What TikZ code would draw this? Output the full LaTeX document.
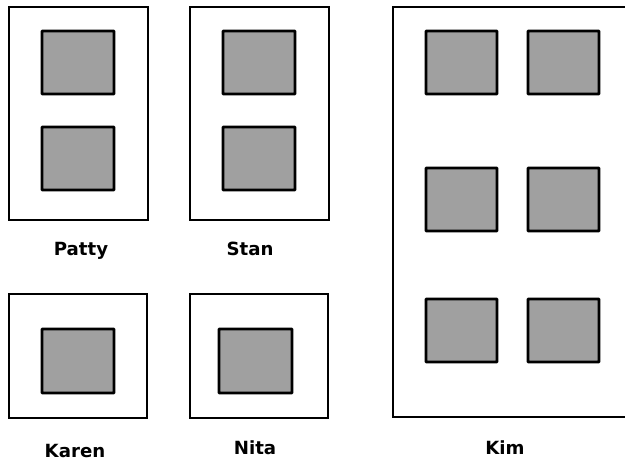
\documentclass[tikz,border=0pt]{standalone}
\usepackage{fontspec}
\setmainfont{DejaVu Sans}
\usepackage{xcolor}
\definecolor{deskgray}{RGB}{160,160,160}
\usetikzlibrary{positioning}

\tikzset{
  office/.style={draw=black, line width=2.3pt, fill=white},
  desk/.style={draw=black, line width=2.4pt, fill=deskgray, rounded corners=0.6pt},
  namelabel/.style={font=\bfseries\fontsize{15.5}{17}\selectfont, anchor=base, inner sep=0pt}
}

\begin{document}
\begin{tikzpicture}[x=0.03cm, y=-0.03cm]
\useasboundingbox (0,0) rectangle (625,461);
\clip (0,0) rectangle (625,461);

% --- Patty ---
\draw[office] (9,7) rectangle (148,220);
\draw[desk] (42,31) rectangle (114,94);
\draw[desk] (42,127) rectangle (114,190);
\node[namelabel] (patty) at (81,256) {Patty};

% --- Stan ---
\draw[office] (190,7) rectangle (329,220);
\draw[desk] (223,31) rectangle (295,94);
\draw[desk] (223,127) rectangle (295,190);
\node[namelabel] (stan) at (250,256) {Stan};

% --- Karen ---
\draw[office] (9,294) rectangle (147,418);
\draw[desk] (42,329) rectangle (114,393);
\node[namelabel] (karen) at (75,457) {Karen};

% --- Nita ---
\draw[office] (190,294) rectangle (328,418);
\draw[desk] (219,329) rectangle (292,393);
\node[namelabel] (nita) at (255,454) {Nita};

% --- Kim (six desks) ---
\draw[office] (393,7) rectangle (640,417);
\foreach \dy in {31,168,299}{
  \draw[desk] (426,\dy) rectangle (497,\dy+63);
  \draw[desk] (528,\dy) rectangle (599,\dy+63);
}
\node[namelabel] (kim) at (505,454) {Kim};

\end{tikzpicture}
\end{document}
